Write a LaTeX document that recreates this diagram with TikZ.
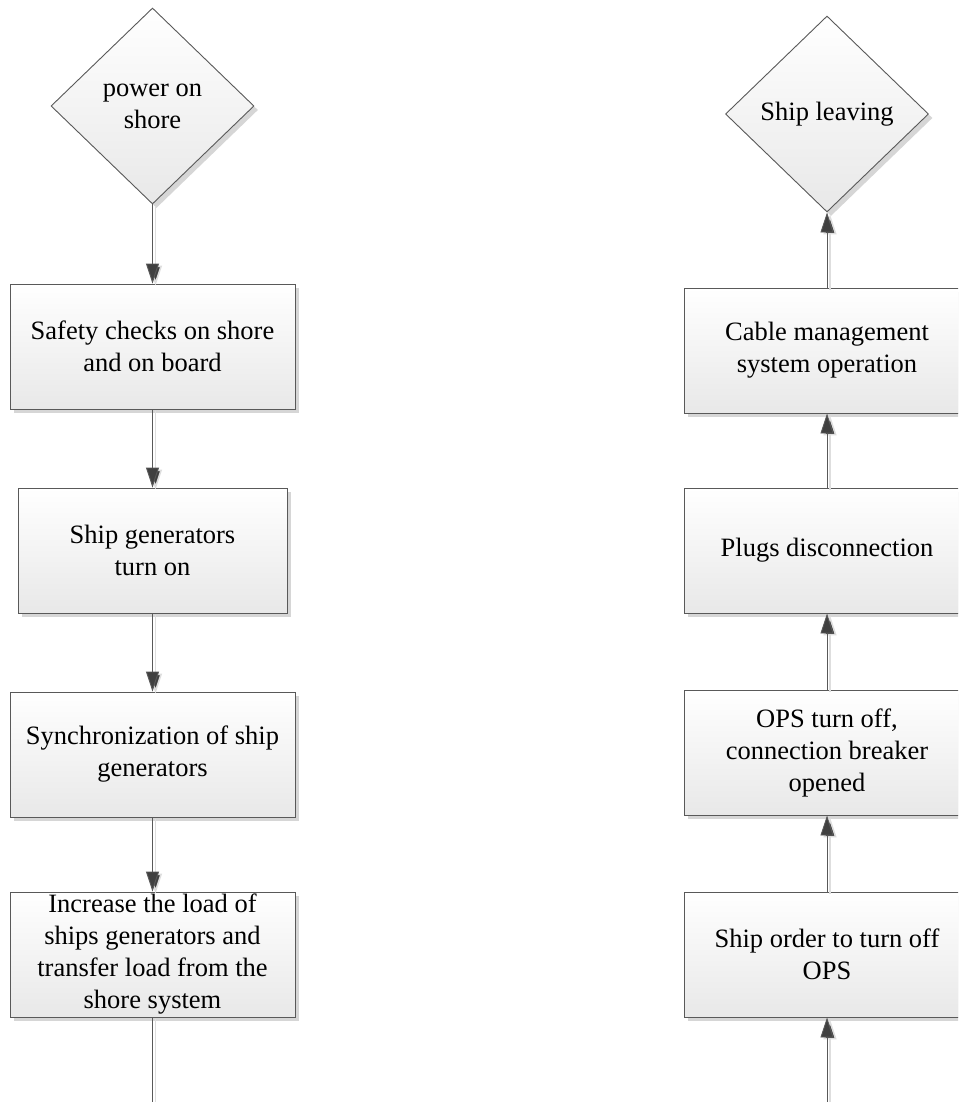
\documentclass[tikz,border=0pt]{standalone}
\usepackage{fontspec}
\setmainfont{Liberation Serif}
\usetikzlibrary{shapes.geometric,arrows.meta,shadows}
\definecolor{edge}{HTML}{595959}
\definecolor{tipc}{HTML}{404040}
\tikzset{
  boxfont/.style={font=\fontsize{26.5}{32}\selectfont, align=center},
  stepbox/.style={boxfont, draw=edge, line width=0.9pt, rectangle,
    top color=white, bottom color=black!9, minimum height=125pt,
    inner sep=0pt,
    drop shadow={shadow xshift=4pt, shadow yshift=-4pt, fill=black!16, opacity=1}},
  decision/.style={boxfont, draw=edge, line width=0.9pt, diamond,
    top color=white, bottom color=black!9, inner sep=0pt,
    minimum width=203pt, minimum height=196pt,
    drop shadow={shadow xshift=4pt, shadow yshift=-4pt, fill=black!16, opacity=1}},
  conn/.style={draw=edge, line width=0.9pt,
    preaction={draw=black!13, line width=1.6pt,
      transform canvas={xshift=3pt, yshift=-2pt}}},
  arr/.style={conn, -{Triangle[length=20pt, width=13pt, fill=tipc]}}
}
\begin{document}
\begin{tikzpicture}[x=1pt, y=1pt]
\useasboundingbox (0,0) rectangle (958,-1102);
\clip (0,0) rectangle (958,-1102);
\fill[white] (0,0) rectangle (958,-1102);

% Left column: connecting to shore power
\node[decision] (pwr) at (152.5,-106) {power on\\shore};
\node[stepbox, minimum width=285pt] (safe) at (152.5,-346.5) {Safety checks on shore\\and on board};
\node[stepbox, minimum width=269pt] (gen) at (152.5,-550.5) {Ship generators\\turn on};
\node[stepbox, minimum width=285pt] (sync) at (152.5,-754.5) {Synchronization of ship\\generators};
\node[stepbox, minimum width=285pt] (load) at (152.5,-954.5) {Increase the load of\\ships generators and\\transfer load from the\\shore system};
\coordinate (lend) at (152.5,-1102);

\draw[arr] (pwr.south) -- (safe.north);
\draw[arr] (safe.south) -- (gen.north);
\draw[arr] (gen.south) -- (sync.north);
\draw[arr] (sync.south) -- (load.north);
\draw[conn] (load.south) -- (lend);

% Right column: ship departure
\node[decision] (leave) at (827,-114) {Ship leaving};
\node[stepbox, minimum width=286pt] (cable) at (827,-350.5) {Cable management\\system operation};
\node[stepbox, minimum width=286pt] (plug) at (827,-550.5) {Plugs disconnection};
\node[stepbox, minimum width=286pt] (ops) at (827,-752.5) {OPS turn off,\\connection breaker\\opened};
\node[stepbox, minimum width=286pt] (order) at (827,-954.5) {Ship order to turn off\\OPS};
\coordinate (rstart) at (827,-1102);

\draw[arr] (rstart) -- (order.south);
\draw[arr] (order.north) -- (ops.south);
\draw[arr] (ops.north) -- (plug.south);
\draw[arr] (plug.north) -- (cable.south);
\draw[arr] (cable.north) -- (leave.south);
\end{tikzpicture}
\end{document}
